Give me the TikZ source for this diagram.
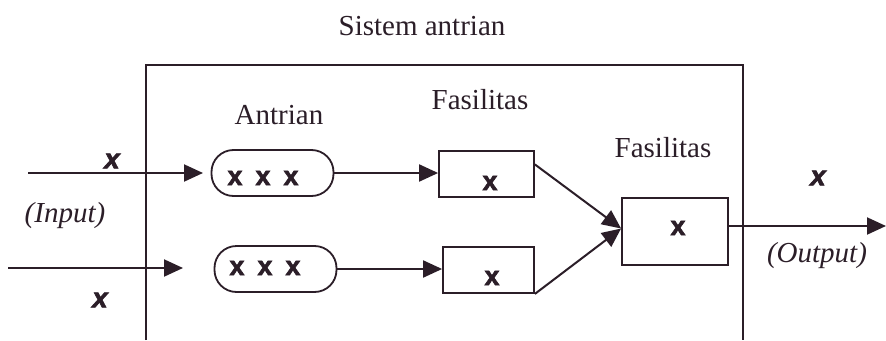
\documentclass[tikz,border=0pt]{standalone}
\usepackage{fontspec}
\setmainfont{Liberation Serif}
\newfontfamily\xsans[FakeBold=2.2]{Liberation Sans}
\usetikzlibrary{arrows.meta,calc}
\definecolor{ink}{HTML}{2B1E28}
\tikzset{
  lbl/.style={text=ink, inner sep=0pt, font=\fontsize{29}{34}\selectfont},
  ilbl/.style={text=ink, inner sep=0pt, font=\fontsize{29}{34}\selectfont\itshape},
  xmark/.style={text=ink, inner sep=0pt, font=\fontsize{27}{32}\selectfont\xsans\bfseries},
  xin/.style={text=ink, inner sep=0pt, font=\fontsize{28}{32}\selectfont\xsans\bfseries\itshape},
  queue/.style={draw=ink, line width=1.8pt, rounded corners=22pt, minimum width=122pt, minimum height=46pt, inner sep=0pt},
  facbox/.style={draw=ink, line width=1.8pt, inner sep=0pt},
  flow/.style={draw=ink, line width=2pt, -{Triangle[length=19pt,width=17pt]}},
  frame/.style={draw=ink, line width=1.8pt}
}
\begin{document}
\begin{tikzpicture}[x=1pt,y=-1pt]
\useasboundingbox[fill=white] (0,0) rectangle (886,340);
% system frame (cut at bottom)
\coordinate (fbl) at (146,340);
\coordinate (ftl) at (146,65);
\coordinate (ftr) at (743,65);
\coordinate (fbr) at (743,340);
\draw[frame] (fbl) -- (ftl) -- (ftr) -- (fbr);
\node[lbl] (title) at (422,26) {Sistem antrian};
\node[lbl] (antr) at (279,115) {Antrian};
\node[lbl] (fas1) at (480,100) {Fasilitas};
\node[lbl] (fas2) at (663,148) {Fasilitas};
% queues
\node[queue] (q1) at (272.5,173) {};
\node[queue] (q2) at (275.5,269) {};
\node[xmark] (q1x) at (263,178) {x\hspace{13pt}x\hspace{13pt}x};
\node[xmark] (q2x) at (265,268) {x\hspace{13pt}x\hspace{13pt}x};
% facilities
\node[facbox, minimum width=95pt, minimum height=46pt] (f1) at (486.5,174) {};
\node[facbox, minimum width=91pt, minimum height=46pt] (f2) at (488.5,270) {};
\node[facbox, minimum width=106pt, minimum height=67pt] (f3) at (675,231.5) {};
\node[xmark] (f1x) at (490,183) {x};
\node[xmark] (f2x) at (492,278) {x};
\node[xmark] (f3x) at (678,228) {x};
% inputs
\coordinate (in1) at (28,173);
\coordinate (in2) at (8,268);
\coordinate (t1) at (203,173);
\coordinate (t2) at (183,268);
\draw[flow] (in1) -- (t1);
\draw[flow] (in2) -- (t2);
\node[xin] (ix1) at (112,161) {x};
\node[xin] (ix2) at (100,300) {x};
\node[ilbl] (inp) at (65,216) {(Input)};
% queue to facility
\draw[flow] (q1.east) -- (q1.east -| f1.west);
\draw[flow] (q2.east) -- (q2.east -| f2.west);
% merge
\coordinate (m) at ($(f3.west)+(0,-3)$);
\draw[flow] ($(f1.north east)!0.3!(f1.south east)$) -- (m);
\draw[flow] (f2.south east) -- (m);
% output
\coordinate (out) at (886,226);
\draw[flow] (f3.east |- out) -- (out);
\node[xin] (ox) at (818,178) {x};
\node[ilbl] (outp) at (817,256) {(Output)};
\end{tikzpicture}
\end{document}
